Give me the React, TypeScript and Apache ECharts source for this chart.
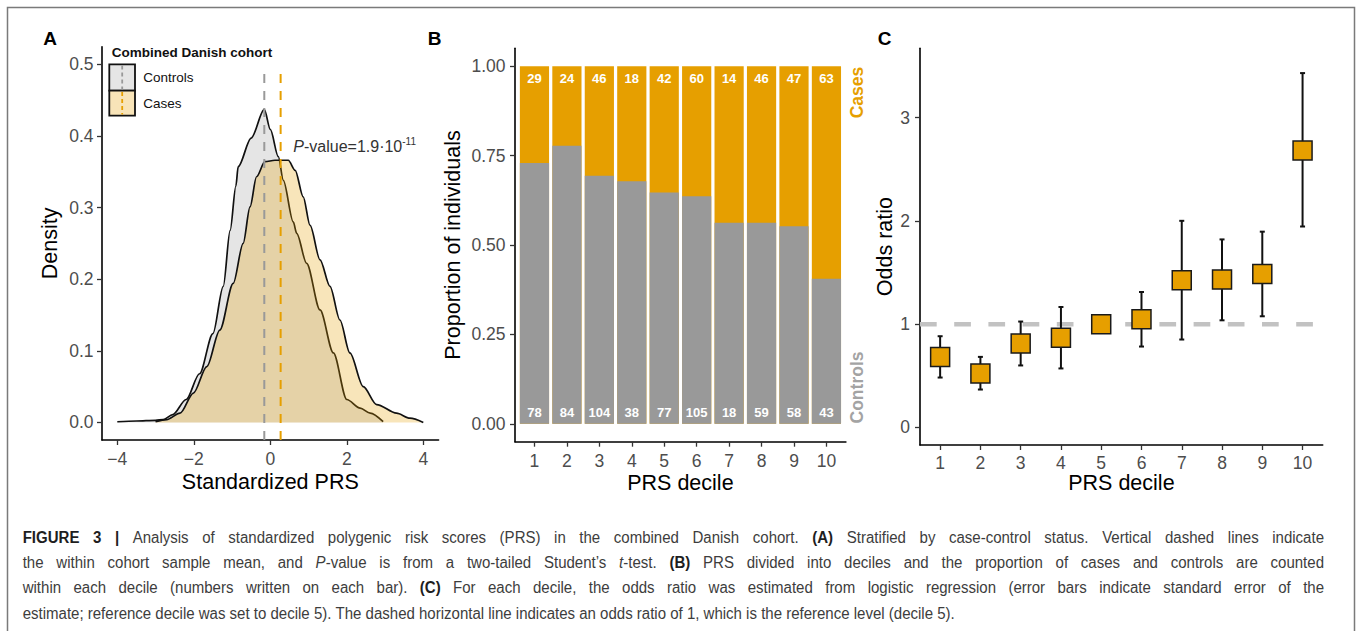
import React, { useEffect, useRef } from "react";
import * as echarts from "echarts";

const FONT = "'Liberation Sans', Arial, Helvetica, sans-serif";

// ---------- Panel A: density of standardized PRS ----------
const densityTicksX = [-4, -2, 0, 2, 4];
const densityTicksY = [0, 0.1, 0.2, 0.3, 0.4, 0.5];
const controlsDensityX = [-4.0, -3.5, -3.0, -2.8, -2.55, -2.2, -1.85, -1.5, -1.23, -1.05, -0.9, -0.84, -0.5, -0.157, 0.0, 0.21, 0.34, 0.6, 0.69, 0.95, 1.3, 1.65, 2.0, 2.35, 2.61, 2.95];
const controlsDensityY = [0.001, 0.002, 0.003, 0.004, 0.011, 0.032, 0.068, 0.124, 0.19, 0.268, 0.33, 0.357, 0.397, 0.437, 0.409, 0.371, 0.338, 0.28, 0.264, 0.222, 0.157, 0.097, 0.032, 0.02, 0.013, 0.001];
const casesDensityX = [-3.0, -2.71, -2.36, -2.01, -1.66, -1.32, -0.97, -0.71, -0.53, -0.36, -0.14, 0.12, 0.47, 0.65, 0.86, 1.04, 1.3, 1.56, 1.82, 2.08, 2.43, 2.78, 3.3, 3.65, 4.0];
const casesDensityY = [0.001, 0.004, 0.013, 0.041, 0.078, 0.129, 0.194, 0.25, 0.301, 0.343, 0.364, 0.366, 0.366, 0.352, 0.315, 0.275, 0.227, 0.19, 0.143, 0.097, 0.05, 0.025, 0.013, 0.006, 0.0];
const controlsMean = -0.157;
const casesMean = 0.27;

// ---------- Panel B: proportions by decile ----------
const deciles = [1, 2, 3, 4, 5, 6, 7, 8, 9, 10];
const casesCounts = [29, 24, 46, 18, 42, 60, 14, 46, 47, 63];
const controlsCounts = [78, 84, 104, 38, 77, 105, 18, 59, 58, 43];
const proportionTicks = [0, 0.25, 0.5, 0.75, 1];

// ---------- Panel C: odds ratios ----------
const oddsRatio = [0.683, 0.522, 0.812, 0.867, 1.0, 1.047, 1.425, 1.431, 1.485, 2.68];
const oddsLower = [0.483, 0.367, 0.6, 0.571, 1.0, 0.783, 0.851, 1.037, 1.076, 1.945];
const oddsUpper = [0.883, 0.683, 1.025, 1.166, 1.0, 1.311, 2.0, 1.82, 1.895, 3.43];
const oddsTicks = [0, 1, 2, 3];

// ---------- Caption ----------
const captionLines: [string, string][][] = [
  [["FIGURE 3 |", "b"], [" Analysis of standardized polygenic risk scores (PRS) in the combined Danish cohort. ", "n"], ["(A)", "b"], [" Stratified by case-control status. Vertical dashed lines indicate", "n"]],
  [["the within cohort sample mean, and ", "n"], ["P", "i"], ["-value is from a two-tailed Student\u2019s ", "n"], ["t", "i"], ["-test. ", "n"], ["(B)", "b"], [" PRS divided into deciles and the proportion of cases and controls are counted", "n"]],
  [["within each decile (numbers written on each bar). ", "n"], ["(C)", "b"], [" For each decile, the odds ratio was estimated from logistic regression (error bars indicate standard error of the", "n"]],
  [["estimate; reference decile was set to decile 5). The dashed horizontal line indicates an odds ratio of 1, which is the reference level (decile 5).", "n"]],
];

const ORANGE = "#E69F00";
const GREY = "#999999";
const TICK_COLOR = "#4d4d4d";

function minusFmt(v: number) {
  return v < 0 ? "\u2212" + Math.abs(v) : String(v);
}

function baseAxis(grid: number, min: number, max: number, ticks: number[], fmt: (v: number) => string, margin: number) {
  return {
    type: "value",
    gridIndex: grid,
    min,
    max,
    splitLine: { show: false },
    axisLine: { show: true, onZero: false, lineStyle: { color: "#000", width: 1.6 } },
    axisTick: { show: true, length: 5, customValues: ticks, lineStyle: { color: "#333", width: 1.3 } },
    axisLabel: { show: true, customValues: ticks, formatter: fmt, color: TICK_COLOR, fontSize: 17.5, fontFamily: FONT, margin },
  };
}

function buildCaption() {
  const canvas = document.createElement("canvas");
  const ctx = canvas.getContext("2d")!;
  const fontOf = (s: string, size: number) =>
    `${s === "i" ? "italic " : ""}${s === "b" ? "bold " : ""}${size}px ${FONT}`;
  const measure = (t: string, s: string, size: number) => {
    ctx.font = fontOf(s, size);
    return ctx.measureText(t).width;
  };
  const lines = captionLines.map((segs) => {
    const words: { t: string; s: string }[][] = [];
    let cur: { t: string; s: string }[] = [];
    for (const [text, s] of segs) {
      const parts = text.split(" ");
      parts.forEach((p, idx) => {
        if (idx > 0) {
          if (cur.length) words.push(cur);
          cur = [];
        }
        if (p) cur.push({ t: p, s });
      });
    }
    if (cur.length) words.push(cur);
    return words;
  });
  const left = 22.7;
  const right = 1324;
  const target = right - left;
  const fs = 15.6;
  const natural = (words: { t: string; s: string }[][], size: number) =>
    words.reduce((a, w) => a + w.reduce((b, p) => b + measure(p.t, p.s, size), 0), 0) +
    (words.length - 1) * measure(" ", "n", size);
  // horizontal compression so the last (unjustified) line spans like the original
  const sx = Math.min(1, 932 / natural(lines[3], fs));
  const ys = [537, 562.5, 587.5, 613];
  const els: any[] = [];
  lines.forEach((words, li) => {
    const widths = words.map((w) => w.reduce((b, p) => b + measure(p.t, p.s, fs), 0) * sx);
    const sum = widths.reduce((a, b) => a + b, 0);
    const gap = li < 3 ? (target - sum) / (words.length - 1) : measure(" ", "n", fs) * sx;
    let x = left;
    words.forEach((w, wi) => {
      const rich: any = {
        n: { fontSize: fs, fontFamily: FONT, fill: "#3d3d3d", color: "#3d3d3d" },
        b: { fontSize: fs, fontFamily: FONT, fontWeight: "bold", fill: "#1e1e1e", color: "#1e1e1e" },
        i: { fontSize: fs, fontFamily: FONT, fontStyle: "italic", fill: "#3d3d3d", color: "#3d3d3d" },
      };
      els.push({
        type: "text",
        x,
        y: ys[li],
        scaleX: sx,
        z: 20,
        style: {
          text: w.map((p) => `{${p.s}|${p.t}}`).join(""),
          rich,
          fontSize: fs,
          fontFamily: FONT,
          textAlign: "left",
          textVerticalAlign: "middle",
          align: "left",
          verticalAlign: "middle",
        },
      });
      x += widths[wi] + gap;
    });
  });
  return els;
}

function txt(x: number, y: number, text: string, opts: any = {}, rotation = 0) {
  return {
    type: "text",
    x,
    y,
    rotation,
    z: 20,
    style: {
      text,
      fontFamily: FONT,
      fontSize: opts.fontSize ?? 21.5,
      fontWeight: opts.fontWeight ?? "normal",
      fill: opts.fill ?? "#000",
      textAlign: opts.align ?? "center",
      textVerticalAlign: "middle",
      align: opts.align ?? "center",
      verticalAlign: "middle",
    },
  };
}

function buildOption() {
  const controlsPairs = controlsDensityX.map((x, i) => [x, controlsDensityY[i]]);
  const casesPairs = casesDensityX.map((x, i) => [x, casesDensityY[i]]);
  const totals = deciles.map((_, i) => casesCounts[i] + controlsCounts[i]);
  const controlsProp = deciles.map((d, i) => [d, controlsCounts[i] / totals[i]]);
  // cases segment sits on top of controls: its top is the cumulative proportion
  const cumulativeProp = deciles.map((d, i) => [d, (controlsCounts[i] + casesCounts[i]) / totals[i]]);

  const yMinA = -0.0245;

  const graphics: any[] = [
    {
      type: "rect",
      z: 1,
      shape: { x: 7.5, y: 7.5, width: 1347, height: 700 },
      style: { fill: "none", stroke: "#7a7a7a", lineWidth: 1.5 },
    },
    txt(50, 38.5, "A", { fontSize: 19, fontWeight: "bold" }),
    txt(434.5, 38.5, "B", { fontSize: 19, fontWeight: "bold" }),
    txt(884.5, 38.5, "C", { fontSize: 19, fontWeight: "bold" }),
    // axis titles
    txt(270.3, 481.7, "Standardized PRS"),
    txt(680.4, 483.3, "PRS decile"),
    txt(1121.4, 483.3, "PRS decile"),
    txt(50, 243.4, "Density", {}, Math.PI / 2),
    txt(453, 245, "Proportion of individuals", {}, Math.PI / 2),
    txt(885, 246.6, "Odds ratio", {}, Math.PI / 2),
    // legend panel A
    txt(111.7, 52, "Combined Danish cohort", { fontSize: 13.5, fontWeight: "bold", align: "left", fill: "#111" }),
    {
      type: "rect",
      z: 20,
      shape: { x: 109.3, y: 64.3, width: 25.7, height: 26.4 },
      style: { fill: "#e5e5e5", stroke: "#111", lineWidth: 1.8 },
    },
    {
      type: "line",
      z: 21,
      shape: { x1: 122.2, y1: 65.5, x2: 122.2, y2: 89.5 },
      style: { stroke: GREY, lineWidth: 1.8, lineDash: [4, 3] },
    },
    {
      type: "rect",
      z: 20,
      shape: { x: 109.3, y: 90.7, width: 25.7, height: 25 },
      style: { fill: "#f8e4b8", stroke: "#111", lineWidth: 1.8 },
    },
    {
      type: "line",
      z: 21,
      shape: { x1: 122.2, y1: 92, x2: 122.2, y2: 114.5 },
      style: { stroke: ORANGE, lineWidth: 1.8, lineDash: [4, 3] },
    },
    txt(143.3, 77.7, "Controls", { fontSize: 13.5, align: "left", fill: "#111" }),
    txt(143.3, 103.3, "Cases", { fontSize: 13.5, align: "left", fill: "#111" }),
    // P-value
    {
      type: "text",
      x: 293.3,
      y: 146.7,
      z: 20,
      style: {
        text: "{i|P}{n|-value=1.9\u00b710}{s|-11}",
        rich: {
          i: { fontSize: 16, fontFamily: FONT, fontStyle: "italic", fill: "#333", color: "#333", lineHeight: 20 },
          n: { fontSize: 16, fontFamily: FONT, fill: "#333", color: "#333", lineHeight: 20 },
          s: { fontSize: 10, fontFamily: FONT, fill: "#333", color: "#333", lineHeight: 10, verticalAlign: "top" },
        },
        textAlign: "left",
        textVerticalAlign: "middle",
        align: "left",
        verticalAlign: "middle",
      },
    },
    // side labels panel B
    txt(856.5, 92.5, "Cases", { fontSize: 17.5, fontWeight: "bold", fill: ORANGE }, Math.PI / 2),
    txt(857, 387.5, "Controls", { fontSize: 17.5, fontWeight: "bold", fill: "#a3a3a3" }, Math.PI / 2),
    ...buildCaption(),
  ];

  return {
    animation: false,
    backgroundColor: "#ffffff",
    textStyle: { fontFamily: FONT },
    grid: [
      { left: 102, top: 46.7, width: 336.6, height: 393.3 },
      { left: 515, top: 48.3, width: 330.9, height: 393.4 },
      { left: 920, top: 48.3, width: 402.7, height: 396.7 },
    ],
    xAxis: [
      baseAxis(0, -4.4, 4.4, densityTicksX, minusFmt, 9.5),
      baseAxis(1, 0.4, 10.6, deciles, (v: number) => String(v), 10),
      baseAxis(2, 0.5, 10.5, deciles, (v: number) => String(v), 8.5),
    ],
    yAxis: [
      baseAxis(0, yMinA, 0.5245, densityTicksY, (v: number) => v.toFixed(1), 8.4),
      baseAxis(1, -0.05, 1.05, proportionTicks, (v: number) => v.toFixed(2), 9.5),
      baseAxis(2, -0.17, 3.67, oddsTicks, (v: number) => String(v), 10),
    ],
    graphic: { elements: graphics },
    series: [
      {
        name: "Controls density",
        type: "line",
        xAxisIndex: 0,
        yAxisIndex: 0,
        data: controlsPairs,
        smooth: 0.3,
        smoothMonotone: "x",
        symbol: "none",
        lineStyle: { color: "#111", width: 1.7 },
        areaStyle: { color: "#e5e5e5", opacity: 1 },
        z: 2,
      },
      {
        name: "Cases density",
        type: "line",
        xAxisIndex: 0,
        yAxisIndex: 0,
        data: casesPairs,
        smooth: 0.3,
        smoothMonotone: "x",
        symbol: "none",
        lineStyle: { color: "#111", width: 1.7 },
        areaStyle: { color: "rgba(230,159,0,0.27)", opacity: 1 },
        z: 3,
      },
      {
        name: "Controls mean",
        type: "line",
        xAxisIndex: 0,
        yAxisIndex: 0,
        data: [[controlsMean, yMinA], [controlsMean, 0.49]],
        symbol: "none",
        lineStyle: { color: GREY, width: 2, type: [9, 8] },
        z: 4,
      },
      {
        name: "Cases mean",
        type: "line",
        xAxisIndex: 0,
        yAxisIndex: 0,
        data: [[casesMean, yMinA], [casesMean, 0.49]],
        symbol: "none",
        lineStyle: { color: ORANGE, width: 2, type: [9, 8] },
        z: 4,
      },
      {
        name: "Cases",
        type: "bar",
        xAxisIndex: 1,
        yAxisIndex: 1,
        data: cumulativeProp,
        barWidth: 29.2,
        barGap: "-100%",
        itemStyle: { color: ORANGE },
        label: {
          show: true,
          position: "insideTop",
          distance: 5.5,
          color: "#fff",
          fontWeight: "bold",
          fontSize: 13,
          fontFamily: FONT,
          formatter: (p: any) => String(casesCounts[p.dataIndex]),
        },
        z: 2,
      },
      {
        name: "Controls",
        type: "bar",
        xAxisIndex: 1,
        yAxisIndex: 1,
        data: controlsProp,
        barWidth: 29.2,
        barGap: "-100%",
        itemStyle: { color: GREY },
        label: {
          show: true,
          position: "insideBottom",
          distance: 4.5,
          color: "#fff",
          fontWeight: "bold",
          fontSize: 13,
          fontFamily: FONT,
          formatter: (p: any) => String(controlsCounts[p.dataIndex]),
        },
        z: 3,
      },
      {
        name: "Reference",
        type: "line",
        xAxisIndex: 2,
        yAxisIndex: 2,
        data: [[0.5, 1], [10.5, 1]],
        symbol: "none",
        lineStyle: { color: "#c2c2c2", width: 4.5, type: [16.7, 17.5] },
        z: 2,
      },
      {
        name: "Error bars",
        type: "custom",
        xAxisIndex: 2,
        yAxisIndex: 2,
        encode: { x: 0, y: [1, 2] },
        data: deciles.map((d, i) => [d, oddsLower[i], oddsUpper[i]]),
        renderItem: (params: any, api: any) => {
          const lo = api.coord([api.value(0), api.value(1)]);
          const hi = api.coord([api.value(0), api.value(2)]);
          const hw = 2.5;
          const st = { stroke: "#111", lineWidth: 2 };
          return {
            type: "group",
            children: [
              { type: "line", shape: { x1: lo[0], y1: lo[1], x2: hi[0], y2: hi[1] }, style: st },
              { type: "line", shape: { x1: lo[0] - hw, y1: lo[1], x2: lo[0] + hw, y2: lo[1] }, style: st },
              { type: "line", shape: { x1: hi[0] - hw, y1: hi[1], x2: hi[0] + hw, y2: hi[1] }, style: st },
            ],
          };
        },
        z: 3,
      },
      {
        name: "Odds ratio",
        type: "scatter",
        xAxisIndex: 2,
        yAxisIndex: 2,
        data: deciles.map((d, i) => [d, oddsRatio[i]]),
        symbol: "rect",
        symbolSize: 19,
        itemStyle: { color: ORANGE, borderColor: "#1a1a1a", borderWidth: 1.5, opacity: 1 },
        z: 5,
      },
    ],
  };
}

export default function App() {
  const ref = useRef<HTMLDivElement>(null);
  useEffect(() => {
    const chart = echarts.init(ref.current!, null, { renderer: "svg" });
    chart.setOption(buildOption() as any);
    return () => chart.dispose();
  }, []);
  return (
    <div
      ref={ref}
      style={{ position: "absolute", left: 0, top: 0, width: 1358, height: 631, background: "#fff" }}
    />
  );
}
